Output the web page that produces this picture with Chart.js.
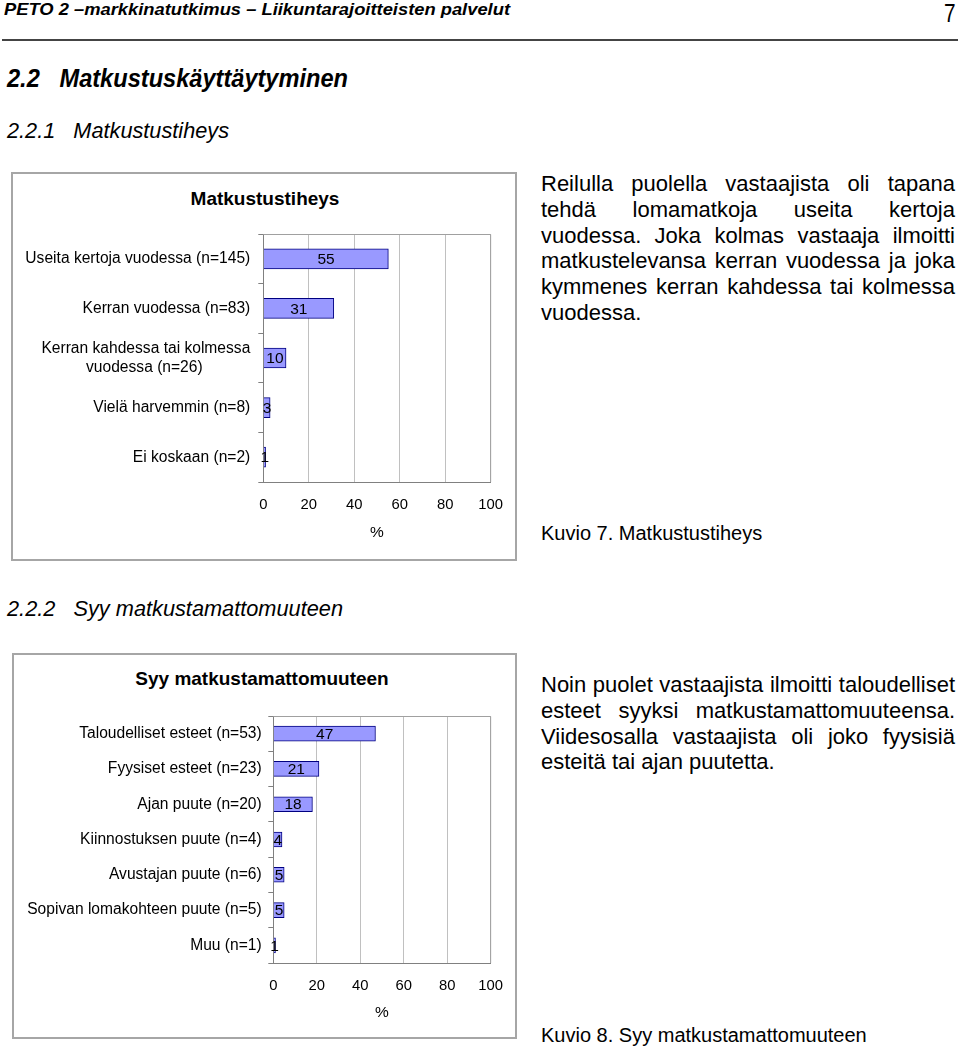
<!DOCTYPE html>
<html lang="fi">
<head>
<meta charset="utf-8">
<script src="https://cdn.jsdelivr.net/npm/chart.js@4.4.1/dist/chart.umd.min.js"></script>
<style>
  body { margin: 0; background: #fff; width: 960px; height: 1051px; position: relative; overflow: hidden;
         font-family: "Liberation Sans", Arial, sans-serif; color: #000; }
  .abs { position: absolute; white-space: nowrap; line-height: 1; }
  .box { position: absolute; border: 2px solid #a6a6a6; box-sizing: border-box; }
  .ctitle { position: absolute; font-weight: bold; font-size: 19px; line-height: 1; white-space: nowrap; transform: translate(-50%, -50%); }
  canvas { position: absolute; }
  .para { position: absolute; left: 541px; width: 414px; font-size: 22px; line-height: 25.8px; }
  .para .j { text-align: justify; text-align-last: justify; }
  .cap { position: absolute; left: 541px; font-size: 20px; line-height: 25.8px; white-space: nowrap; }
</style>
</head>
<body>

<div class="abs" id="hdr" data-w="506" style="left:4px; top:1px; font-size:17px; font-weight:bold; font-style:italic; transform-origin:0 50%;">PETO 2 –markkinatutkimus – Liikuntarajoitteisten palvelut</div>
<div class="abs" style="right:5px; top:0px; font-size:26px; transform:scaleX(0.8); transform-origin:100% 50%;">7</div>
<div style="position:absolute; left:2px; top:39px; width:956px; height:2px; background:#444;"></div>

<div class="abs" data-w="341" style="left:7px; top:66px; font-size:25px; font-weight:bold; font-style:italic; transform-origin:0 50%;">2.2&nbsp;&nbsp; Matkustuskäyttäytyminen</div>
<div class="abs" data-w="222" style="left:7px; top:120px; font-size:22px; font-style:italic; transform-origin:0 50%;">2.2.1&nbsp;&nbsp; Matkustustiheys</div>

<div class="box" style="left:11px; top:172px; width:506px; height:389px;"></div>
<div class="ctitle" style="left:265px; top:198px;">Matkustustiheys</div>
<canvas id="freqChart" width="506" height="389" style="left:11px; top:172px;"></canvas>

<div class="para" style="top:171px;">
  <div class="j">Reilulla puolella vastaajista oli tapana</div>
  <div class="j">tehdä lomamatkoja useita kertoja</div>
  <div class="j">vuodessa. Joka kolmas vastaaja ilmoitti</div>
  <div class="j">matkustelevansa kerran vuodessa ja joka</div>
  <div class="j">kymmenes kerran kahdessa tai kolmessa</div>
  <div>vuodessa.</div>
</div>
<div class="cap" style="top:521px;">Kuvio 7. Matkustustiheys</div>

<div class="abs" data-w="336" style="left:7px; top:598px; font-size:22px; font-style:italic; transform-origin:0 50%;">2.2.2&nbsp;&nbsp; Syy matkustamattomuuteen</div>

<div class="box" style="left:12px; top:653px; width:505px; height:386px;"></div>
<div class="ctitle" style="left:262px; top:678px;">Syy matkustamattomuuteen</div>
<canvas id="reasonChart" width="505" height="386" style="left:12px; top:653px;"></canvas>

<div class="para" style="top:672px;">
  <div class="j">Noin puolet vastaajista ilmoitti taloudelliset</div>
  <div class="j">esteet syyksi matkustamattomuuteensa.</div>
  <div class="j">Viidesosalla vastaajista oli joko fyysisiä</div>
  <div>esteitä tai ajan puutetta.</div>
</div>
<div class="cap" style="top:1023px;">Kuvio 8. Syy matkustamattomuuteen</div>

<script>
// data
const pctTicks = [0, 20, 40, 60, 80, 100];

const freqLabels = [
    "Useita kertoja vuodessa (n=145)",
    "Kerran vuodessa (n=83)",
    ["Kerran kahdessa tai kolmessa", "vuodessa (n=26)" + "\u00a0".repeat(11)],
    "Vielä harvemmin (n=8)",
    "Ei koskaan (n=2)",
];
const freqValues = [55, 31, 10, 3, 1];

const reasonLabels = [
    "Taloudelliset esteet (n=53)",
    "Fyysiset esteet (n=23)",
    "Ajan puute (n=20)",
    "Kiinnostuksen puute (n=4)",
    "Avustajan puute (n=6)",
    "Sopivan lomakohteen puute (n=5)",
    "Muu (n=1)",
];
const reasonValues = [47, 21, 18, 4, 5, 5, 1];

// squeeze the narrow headings to their width in the page
document.querySelectorAll("[data-w]").forEach((el) => {
    const w = el.getBoundingClientRect().width;
    el.style.transform = `scaleX(${el.dataset.w / w})`;
});

Chart.defaults.font.family = '"Liberation Sans", Arial, sans-serif';
Chart.defaults.color = "#000";

// top and right edge of the plot area
const plotFrame = {
    id: "plotFrame",
    beforeDatasetsDraw(chart) {
        const { ctx, chartArea: a } = chart;
        ctx.save();
        ctx.strokeStyle = "#a0a0a0";
        ctx.lineWidth = 1;
        ctx.beginPath();
        ctx.moveTo(a.left, a.top + 0.5);
        ctx.lineTo(a.right, a.top + 0.5);
        ctx.lineTo(a.right, a.bottom);
        ctx.stroke();
        ctx.restore();
    },
};

// value written in the middle of each bar
const barLabels = {
    id: "barLabels",
    afterDatasetsDraw(chart) {
        const { ctx } = chart;
        const values = chart.data.datasets[0].data;
        ctx.save();
        ctx.font = '15.5px "Liberation Sans", Arial, sans-serif';
        ctx.fillStyle = "#000";
        ctx.textAlign = "center";
        ctx.textBaseline = "middle";
        chart.getDatasetMeta(0).data.forEach((bar, i) => {
            ctx.fillText(values[i], (bar.x + bar.base) / 2, bar.y + 1);
        });
        ctx.restore();
    },
};

function makeChart(id, labels, values, g) {
    return new Chart(document.getElementById(id), {
        type: "bar",
        data: {
            labels,
            datasets: [{
                data: values,
                backgroundColor: "#9999ff",
                borderColor: "#000080",
                borderWidth: 1,
                barThickness: g.bar,
            }],
        },
        options: {
            indexAxis: "y",
            responsive: false,
            animation: false,
            layout: { padding: { top: g.top, right: g.w - g.right, left: 0, bottom: 0 } },
            plugins: { legend: { display: false }, tooltip: { enabled: false } },
            scales: {
                x: {
                    min: pctTicks[0],
                    max: pctTicks[pctTicks.length - 1],
                    ticks: { stepSize: pctTicks[1] - pctTicks[0], autoSkip: false, maxRotation: 0, padding: 14, font: { size: 14.8 } },
                    grid: { color: "#c0c0c0", drawTicks: false },
                    border: { color: "#808080" },
                    title: { display: true, text: "%", font: { size: 15.5 }, padding: { top: 0, bottom: g.pctPad } },
                    afterFit: (s) => { s.height = g.h - g.bottom; },
                },
                y: {
                    ticks: { padding: g.labelPad, font: { size: 15.6 } },
                    grid: { drawOnChartArea: false, tickLength: 5, color: "#808080" },
                    border: { color: "#808080" },
                    afterFit: (s) => { s.width = g.left; },
                },
            },
        },
        plugins: [plotFrame, barLabels],
    });
}

makeChart("freqChart", freqLabels, freqValues,
    { w: 506, h: 389, left: 252.3, right: 480.7, top: 62, bottom: 310, bar: 20, pctPad: 19, labelPad: 8 });
makeChart("reasonChart", reasonLabels, reasonValues,
    { w: 505, h: 386, left: 261.3, right: 480.7, top: 63, bottom: 310, bar: 15, pctPad: 17, labelPad: 6.6 });
</script>
</body>
</html>
